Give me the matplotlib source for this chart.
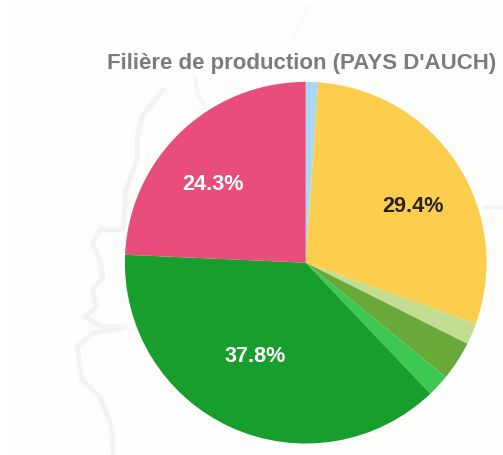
import matplotlib
matplotlib.use("Agg")
import matplotlib.pyplot as plt
from matplotlib.patches import Rectangle
import numpy as np

W, H = 503, 455
title = "Filière de production (PAYS D'AUCH)"
categories = ["Autre", "Solaire", "Biomasse", "Biogaz", "Déchets", "Hydraulique", "Éolien"]
values = [1.1, 29.4, 1.9, 3.5, 2.0, 37.8, 24.3]
colors = ["#a9d8f2", "#fdcd4e", "#c3dd90", "#69a93a", "#3cc853", "#179e2c", "#e84d7b"]
pct_colors = {29.4: "#2b2222", 37.8: "#ffffff", 24.3: "#ffffff"}
pct_shown = [29.4, 37.8, 24.3]
pct_polar = {29.4: (61.7, 122), 37.8: (208.8, 105), 24.3: (310.7, 122.7)}

# faint map lines in the backdrop
river_x = [163, 143, 137, 137, 125, 125, 123, 100, 92, 100, 103, 92, 97, 85, 103, 125, 93, 77, 82, 100, 112, 113]
river_y = [90, 115, 137, 160, 193, 207, 230, 230, 243, 260, 277, 290, 307, 317, 327, 327, 333, 347, 380, 397, 427, 455]
branch_x = [195, 198, 205]
branch_y = [78, 95, 105]
road_x = [308, 296, 293]
road_y = [8, 30, 42]
east_x = [483, 503]
east_y = [207, 207]

plt.rcParams["font.family"] = ["Liberation Sans", "DejaVu Sans"]
fig = plt.figure(figsize=(W / 100, H / 100), dpi=100, facecolor="#ffffff")
ax = fig.add_axes([0, 0, 1, 1])
cx, cy, r = 305.7, 262.7, 180.8

wedges, _ = ax.pie(values, colors=colors, center=(cx, cy), radius=r, startangle=-90,
                   counterclock=True, frame=True, normalize=True,
                   wedgeprops=dict(linewidth=0, zorder=3))
ax.set_xlim(0, W)
ax.set_ylim(H, 0)
ax.set_aspect("auto")
ax.axis("off")

ax.add_patch(Rectangle((7, 5), W - 7, H - 5, facecolor="#fdfdfb", edgecolor="none", zorder=0))
ax.plot(river_x, river_y, color="#f3f3f2", lw=3.6, solid_joinstyle="round", zorder=1)
ax.plot(branch_x, branch_y, color="#f5f5f3", lw=3.0, zorder=1)
ax.plot(road_x, road_y, color="#f6f6f4", lw=0.8, zorder=1)
ax.plot(east_x, east_y, color="#f2f2f0", lw=2.5, zorder=1)

for v in pct_shown:
    ang, d = pct_polar[v]
    a = np.deg2rad(ang)
    ax.text(cx + d * np.sin(a), cy - d * np.cos(a) + 1.5, f"{v}%", color=pct_colors[v],
            ha="center", va="center", fontsize=15.6, fontweight="bold", zorder=5)

ax.text(302, 63.5, title, ha="center", va="center", fontsize=16, fontweight="bold",
        color="#7b7d7d", zorder=5)
fig.savefig("out.png", dpi=100, facecolor=fig.get_facecolor())
